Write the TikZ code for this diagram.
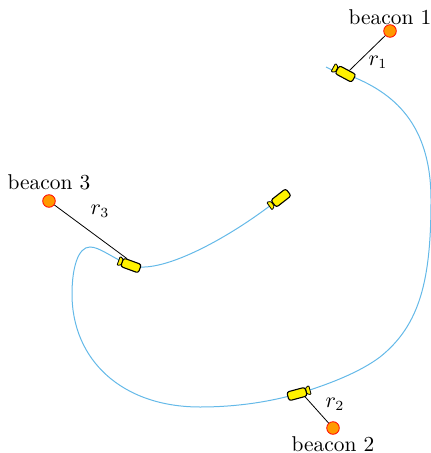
\documentclass[tikz,border=0pt]{standalone}
\usepackage{xcolor}
\usepackage{amsmath}
\usepackage{tikz}
\usetikzlibrary{shapes,arrows,positioning,calc}
\definecolor{pathblue}{RGB}{100,185,232}
\definecolor{beaconorange}{RGB}{255,153,0}

\begin{document}
\begin{tikzpicture}[x=0.5pt, y=-0.5pt, node distance=1pt, thin, font=\fontsize{10.7pt}{13pt}\selectfont]
  \tikzstyle{beacon} = [circle, draw=red, fill=beaconorange, minimum size=6.3pt, inner sep=0pt]
  \tikzstyle{robot} = [rectangle, draw, line width=0.55pt, fill=yellow, rounded corners=1.2pt, minimum width=9.4pt, minimum height=4.5pt, inner sep=0pt]
  \tikzstyle{nozzle} = [trapezium, trapezium left angle=72, trapezium right angle=72, trapezium stretches=true, draw, line width=0.4pt, fill=yellow, rounded corners=0.5pt, minimum width=4.8pt, minimum height=2pt, inner sep=0.3pt]
  \useasboundingbox (0,0) rectangle (430,453);

  \coordinate (start) at (326,67);
  \coordinate (pos1) at (345.5,74);
  \coordinate (pos2) at (297,394);
  \coordinate (pos3) at (131,265.5);
  \coordinate (pos4) at (281,198);

  % trajectory
  \draw[pathblue, line width=0.5pt] (start) .. controls (332,71) and (339,71) .. (pos1)
    .. controls (395,92) and (431,125) .. (431,200)
    .. controls (431,280) and (420,325) .. (380,357)
    .. controls (360,372) and (330,384) .. (pos2)
    .. controls (265,403) and (232,407) .. (200,407)
    .. controls (122,407) and (72,360) .. (72,294)
    .. controls (72,268) and (78,247) .. (90,247)
    .. controls (100,247) and (112,258) .. (pos3)
    .. controls (160,275) and (225,240) .. (271,205);

  \node[beacon] (beacon1) at (390,31) {};
  \node[beacon] (beacon2) at (333,428) {};
  \node[beacon] (beacon3) at (49,201) {};
  \node (name1) [above=-4pt of beacon1] {beacon 1};
  \node (name2) [below=-2.5pt of beacon2] {beacon 2};
  \node (name3) [above=-1.5pt of beacon3] {beacon 3};

  \node[nozzle, rotate=242] (noz1) at (335,68.5) {};
  \node[nozzle, rotate=105] (noz2) at (308,390.5) {};
  \node[nozzle, rotate=250] (noz3) at (120.5,261.5) {};
  \node[nozzle, rotate=305] (noz4) at (271,205) {};
  \node[robot, rotate=-28] (rob1) at (pos1) {};
  \node[robot, rotate=15] (rob2) at (pos2) {};
  \node[robot, rotate=-20] (rob3) at (pos3) {};
  \node[robot, rotate=38] (rob4) at (pos4) {};

  \draw (beacon1) -- (rob1.70);
  \draw (beacon2) -- (rob2.-35);
  \draw (beacon3) -- (rob3.140);

  \node (r1) at (378,62) {$r_1$};
  \node (r2) at (335,404) {$r_2$};
  \node (r3) at (100,211) {$r_3$};
\end{tikzpicture}
\end{document}
